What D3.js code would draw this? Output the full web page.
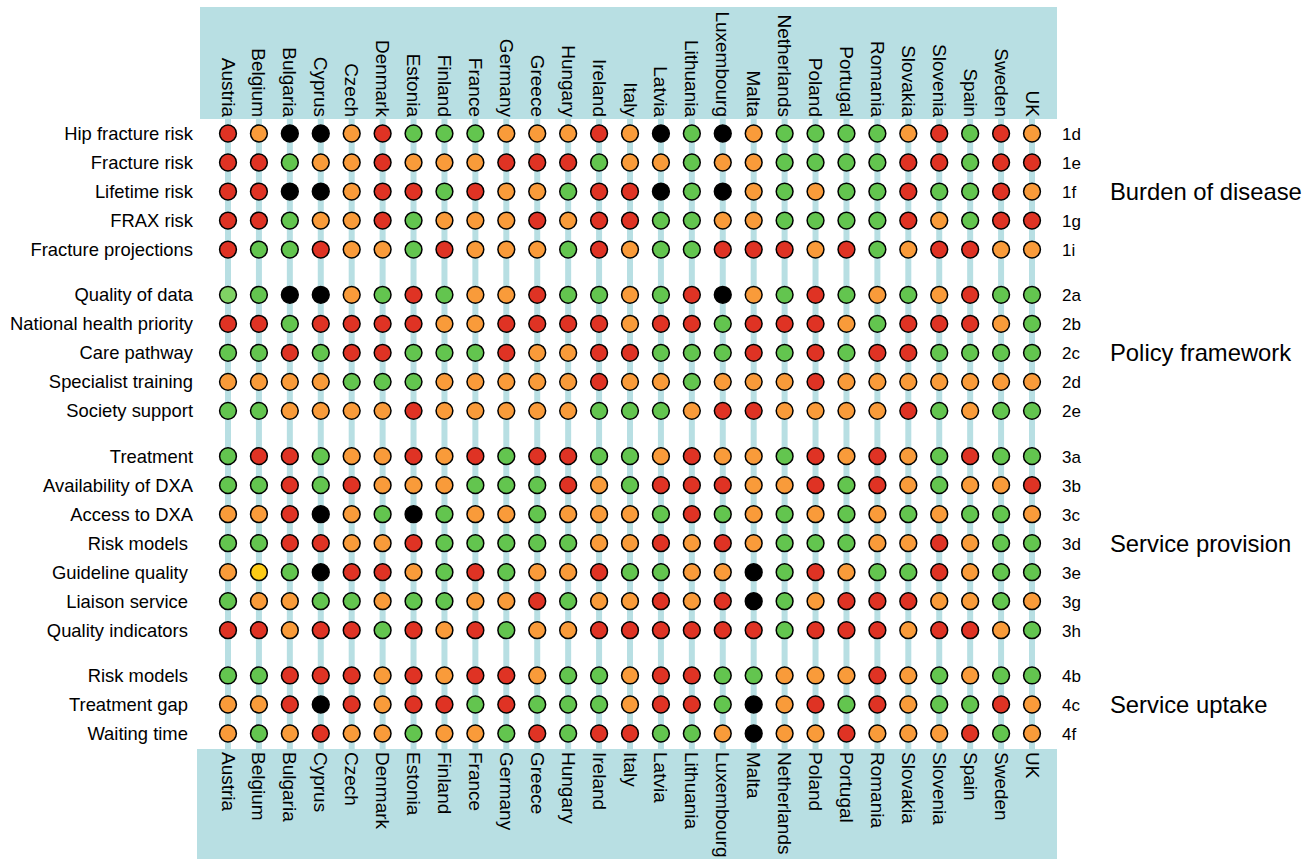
<!DOCTYPE html>
<html>
<head>
<meta charset="utf-8">
<script src="https://cdn.jsdelivr.net/npm/d3@7"></script>
<style>
  html, body { margin: 0; padding: 0; background: #fff; }
  svg { display: block; font-family: "Liberation Sans", Arial, sans-serif; }
</style>
</head>
<body>
<svg id="chart" width="1315" height="859"></svg>
<script>
// ---------------- data ----------------
const countries = ["Austria","Belgium","Bulgaria","Cyprus","Czech","Denmark","Estonia","Finland","France","Germany","Greece","Hungary","Ireland","Italy","Latvia","Lithuania","Luxembourg","Malta","Netherlands","Poland","Portugal","Romania","Slovakia","Slovenia","Spain","Sweden","UK"];

const indicators = ["Hip fracture risk","Fracture risk","Lifetime risk","FRAX risk","Fracture projections",
  "Quality of data","National health priority","Care pathway","Specialist training","Society support",
  "Treatment","Availability of DXA","Access to DXA","Risk models\u00a0","Guideline quality\u00a0","Liaison service\u00a0","Quality indicators\u00a0",
  "Risk models\u00a0","Treatment gap\u00a0","Waiting time\u00a0"];

const codes = ["1d","1e","1f","1g","1i","2a","2b","2c","2d","2e","3a","3b","3c","3d","3e","3g","3h","4b","4c","4f"];

const groupOfRow = [0,0,0,0,0,1,1,1,1,1,2,2,2,2,2,2,2,3,3,3];
const groups = ["Burden of disease","Policy framework","Service provision","Service uptake"];

// R = red, O = orange, G = green, L = light green, Y = yellow, K = black
const ratings = [
  "ROKKORGGGOOORO" + "KGKOGGGGORGRO",
  "RRGOOROOORRRGO" + "OGOOGGGGRRGRR",
  "RRKKORRGROOGRR" + "KGKOGOGGRGGRO",
  "RRGOORGOOORORR" + "GGOOGGGGROGRR",
  "RGGROOGROOOGRO" + "GGRRRORGORROO",
  "LGKKOGRGOORGGO" + "GRKOGRGOGORGG",
  "RRGRRRROORRRRO" + "RRGRRROGRRROG",
  "GGRGRRGGGROORR" + "GGGRGRGRRGGGG",
  "OOOOGGGOOOOORO" + "OGOOOROOOOOOO",
  "GGOOOOROOOOOGG" + "GORROOOORGOGG",
  "GRRGOORORGRRGG" + "OROOGROROGRGG",
  "GGRGROOOGGGROG" + "RRROORGROGOOR",
  "OORKOGKGOOGOOO" + "GRGOGOGOGOGGO",
  "GGRROORGGGGGOO" + "ROROGGGOOROGG",
  "OYGKRROGRGOORG" + "GOOKGROGGROGG",
  "GOOGGOGGOORGOO" + "RORKGORRROOGO",
  "RRORRGRORGOORR" + "RRRRGRRRORROG",
  "GGRRRORORROGGO" + "RRGGOOOROGOGG",
  "OORKRORRGRGGGO" + "RRGKORGROGGRO",
  "OGOROOGOOGRGRR" + "GGOKOOROOORGO"
];

const ratingKeys = ["R","O","G","L","Y","K"];
const ratingColors = ["#df3324","#f99b3a","#63c54f","#80d264","#fdcb16","#000000"];

// ---------------- layout ----------------
const svg = d3.select("#chart");
const teal = "#b8dfe3";
const gapSlots = 0.56;

const x = d3.scalePoint().domain(countries).range([228, 1032]);
const slot = (i) => i + groupOfRow[i] * gapSlots;
const y = d3.scaleLinear().domain([0, slot(indicators.length - 1)]).range([133.5, 733.5]);
const color = d3.scaleOrdinal().domain(ratingKeys).range(ratingColors);

const headerTop = 7, headerBottom = 119, footerTop = 749, footerBottom = 859;

// bands
svg.append("rect").attr("x", 200).attr("y", headerTop).attr("width", 857).attr("height", headerBottom - headerTop).attr("fill", teal);
svg.append("rect").attr("x", 197).attr("y", footerTop).attr("width", 860).attr("height", footerBottom - footerTop).attr("fill", teal);

// vertical connector lines
svg.append("g").selectAll("line").data(countries).join("line")
  .attr("x1", d => x(d)).attr("x2", d => x(d))
  .attr("y1", headerBottom - 1).attr("y2", footerTop + 1)
  .attr("stroke", teal).attr("stroke-width", 6);

// country labels top
svg.append("g").selectAll("text").data(countries).join("text")
  .attr("transform", d => `translate(${x(d)},${headerBottom - 2}) rotate(90)`)
  .attr("text-anchor", "end").attr("dominant-baseline", "central")
  .attr("font-size", 19).attr("fill", "#000").text(d => d);

// country labels bottom
svg.append("g").selectAll("text").data(countries).join("text")
  .attr("transform", d => `translate(${x(d)},${footerTop + 3}) rotate(90)`)
  .attr("text-anchor", "start").attr("dominant-baseline", "central")
  .attr("font-size", 19).attr("fill", "#000").text(d => d);

// row labels
svg.append("g").selectAll("text").data(indicators).join("text")
  .attr("x", 193).attr("y", (d, i) => y(slot(i)))
  .attr("text-anchor", "end").attr("dominant-baseline", "central")
  .attr("font-size", 18.4).attr("fill", "#000").text(d => d);

// codes
svg.append("g").selectAll("text").data(codes).join("text")
  .attr("x", 1062).attr("y", (d, i) => y(slot(i)) + 1)
  .attr("text-anchor", "start").attr("dominant-baseline", "central")
  .attr("font-size", 17).attr("fill", "#000").text(d => d);

// group labels
const groupCenters = groups.map((g, gi) => {
  const idx = d3.range(indicators.length).filter(i => groupOfRow[i] === gi);
  return (y(slot(idx[0])) + y(slot(idx[idx.length - 1]))) / 2;
});
svg.append("g").selectAll("text").data(groups).join("text")
  .attr("x", 1110).attr("y", (d, i) => groupCenters[i])
  .attr("text-anchor", "start").attr("dominant-baseline", "central")
  .attr("font-size", 23.8).attr("fill", "#000").text(d => d);

// cells
const cells = [];
ratings.forEach((row, ri) => {
  row.split("").forEach((v, ci) => cells.push({ row: ri, country: countries[ci], value: v }));
});
svg.append("g").selectAll("circle").data(cells).join("circle")
  .attr("cx", d => x(d.country))
  .attr("cy", d => y(slot(d.row)))
  .attr("r", 8.4)
  .attr("fill", d => color(d.value))
  .attr("stroke", "#000").attr("stroke-width", 1.5);
</script>
</body>
</html>
